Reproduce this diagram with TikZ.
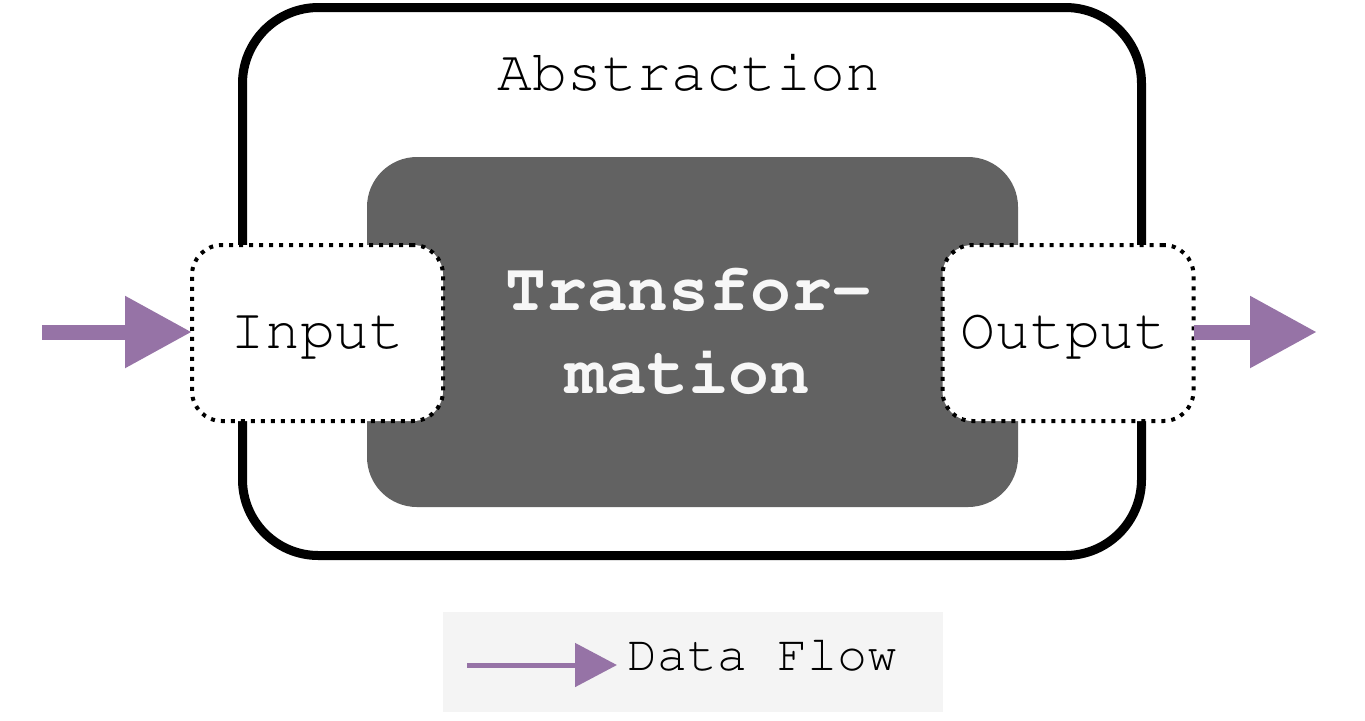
\documentclass[tikz,border=0pt]{standalone}
\usepackage[T1]{fontenc}
\renewcommand{\ttdefault}{pcr}
\usetikzlibrary{arrows.meta}
\definecolor{flowpurple}{HTML}{9673A6}
\definecolor{darkfill}{HTML}{626262}
\definecolor{legendbg}{HTML}{F4F4F4}
\definecolor{coretext}{HTML}{F7F7F7}
\tikzset{
  outerbox/.style={draw=black, line width=4.5pt, rounded corners=38pt, inner sep=0pt, outer sep=0pt},
  corebox/.style={fill=darkfill, draw=none, rounded corners=25pt, inner sep=0pt},
  portbox/.style={fill=white, draw=black, line width=2pt, dash pattern=on 2pt off 3pt, rounded corners=15pt, inner sep=0pt, outer sep=0pt, minimum width=125.5pt, minimum height=88pt},
  lbl/.style={font=\ttfamily\fontsize{29}{34}\selectfont, inner sep=0pt, anchor=base},
  corelbl/.style={font=\ttfamily\bfseries\fontsize{34}{41.5}\selectfont, text=coretext, inner sep=0pt, anchor=base},
  flow/.style={draw=flowpurple, line width=7.5pt, -{Triangle[length=33.5pt,width=34pt]}, fill=flowpurple},
  legendflow/.style={draw=flowpurple, line width=2.5pt, -{Triangle[length=21pt,width=21.5pt]}, fill=flowpurple},
}
\begin{document}
\begin{tikzpicture}[x=0.5pt,y=-0.5pt]
\useasboundingbox (0,0) rectangle (1365,720);
\node[outerbox, minimum width=449.5pt, minimum height=274pt] (abs) at (692,281.5) {};
\node[lbl] (abslbl) at (689,90) {Abstraction};
\node[corebox, minimum width=325.5pt, minimum height=175pt] (core) at (692.5,332) {};
\node[corelbl] (tr1) at (689,310) {Transfor-};
\node[corelbl] (tr2) at (688,393) {mation};
\node[portbox] (inp) at (317.5,333) {};
\node[lbl] (inlbl) at (317.5,348) {Input};
\node[portbox] (outp) at (1068,333) {};
\node[lbl] (outlbl) at (1065,348) {Output};
\coordinate (src) at (42,332);
\coordinate (dst) at (1317,332);
\draw[flow] (src) -- (inp.west |- src);
\draw[flow] (outp.east |- dst) -- (dst);
\node[fill=legendbg, minimum width=250pt, minimum height=50pt, inner sep=0pt] (legend) at (692.5,662) {};
\coordinate (lgA) at (467,665);
\coordinate (lgB) at (617,665);
\draw[legendflow] (lgA) -- (lgB);
\node[font=\ttfamily\fontsize{25}{30}\selectfont, inner sep=0pt, anchor=base west] (lgtext) at (627,670) {Data Flow};
\end{tikzpicture}
\end{document}
